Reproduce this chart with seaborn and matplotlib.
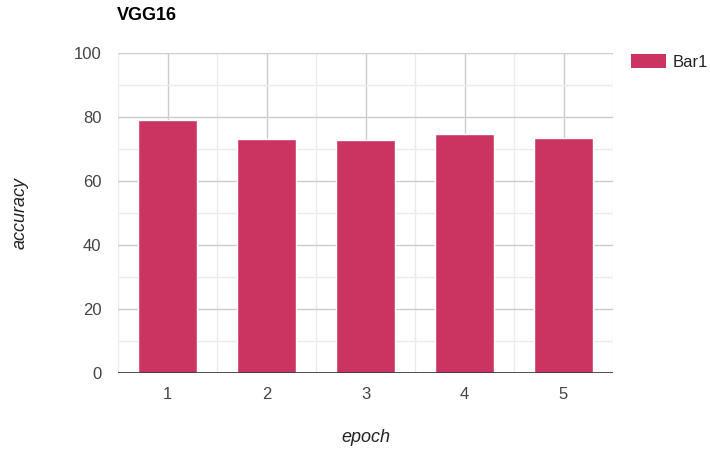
import matplotlib
matplotlib.use("Agg")
import matplotlib.pyplot as plt
from matplotlib.patches import Patch
from matplotlib.ticker import MultipleLocator
import numpy as np
import pandas as pd
import seaborn as sns

# Accuracy per training epoch for VGG16
epochs = ["1", "2", "3", "4", "5"]
accuracy = [79.1, 73.0, 72.7, 74.8, 73.5]
series_name = "Bar1"

bar_color = "#cb3460"

sns.set_theme(style="white")
plt.rcParams["font.family"] = ["Liberation Sans", "DejaVu Sans"]

df = pd.DataFrame({"epoch": epochs, "accuracy": accuracy})

W, H = 710, 450
fig = plt.figure(figsize=(W / 100, H / 100), dpi=100)
ax = fig.add_axes([118 / W, 77 / H, 495 / W, 320 / H])

sns.barplot(data=df, x="epoch", y="accuracy", color=bar_color, saturation=1,
            width=0.6, ax=ax, zorder=3)

ax.set_xlim(-0.5, len(epochs) - 0.5)
ax.set_ylim(0, 100)
ax.yaxis.set_major_locator(MultipleLocator(20))
ax.yaxis.set_minor_locator(MultipleLocator(10))
ax.set_xticks(np.arange(len(epochs)))
ax.set_xticks(np.arange(-0.5, len(epochs)), minor=True)

ax.grid(which="major", axis="both", color="#cccccc", linewidth=1, zorder=0)
ax.grid(which="minor", axis="both", color="#ebebeb", linewidth=1, zorder=0)
ax.set_axisbelow(True)

for s in ax.spines.values():
    s.set_visible(False)
ax.axhline(0, color="#333333", linewidth=1.2, zorder=4)

ax.tick_params(which="both", length=0)
ax.tick_params(axis="x", pad=10, labelsize=12, colors="#444444")
ax.tick_params(axis="y", pad=12, labelsize=12, colors="#444444")

ax.set_xlabel("epoch", style="italic", fontsize=13, color="#222222")
ax.set_ylabel("accuracy", style="italic", fontsize=13, color="#222222")
ax.xaxis.label.set_va("center")
ax.yaxis.label.set_va("center")
ax.xaxis.set_label_coords(0.5, (373 - 438) / 320)
ax.yaxis.set_label_coords((20 - 118) / 495, 0.5)

fig.text(117 / W, 1 - 16 / H, "VGG16", fontsize=13, fontweight="bold",
         color="#000000", ha="left", va="center")

handle = Patch(facecolor=bar_color, edgecolor="none")
fig.legend([handle], [series_name], loc="upper left",
           bbox_to_anchor=(631 / W, 1 - 54 / H), frameon=False,
           borderpad=0, borderaxespad=0,
           fontsize=12, handlelength=2.1, handleheight=0.9, handletextpad=0.42,
           labelcolor="#222222")

fig.savefig("out.png", dpi=100)
